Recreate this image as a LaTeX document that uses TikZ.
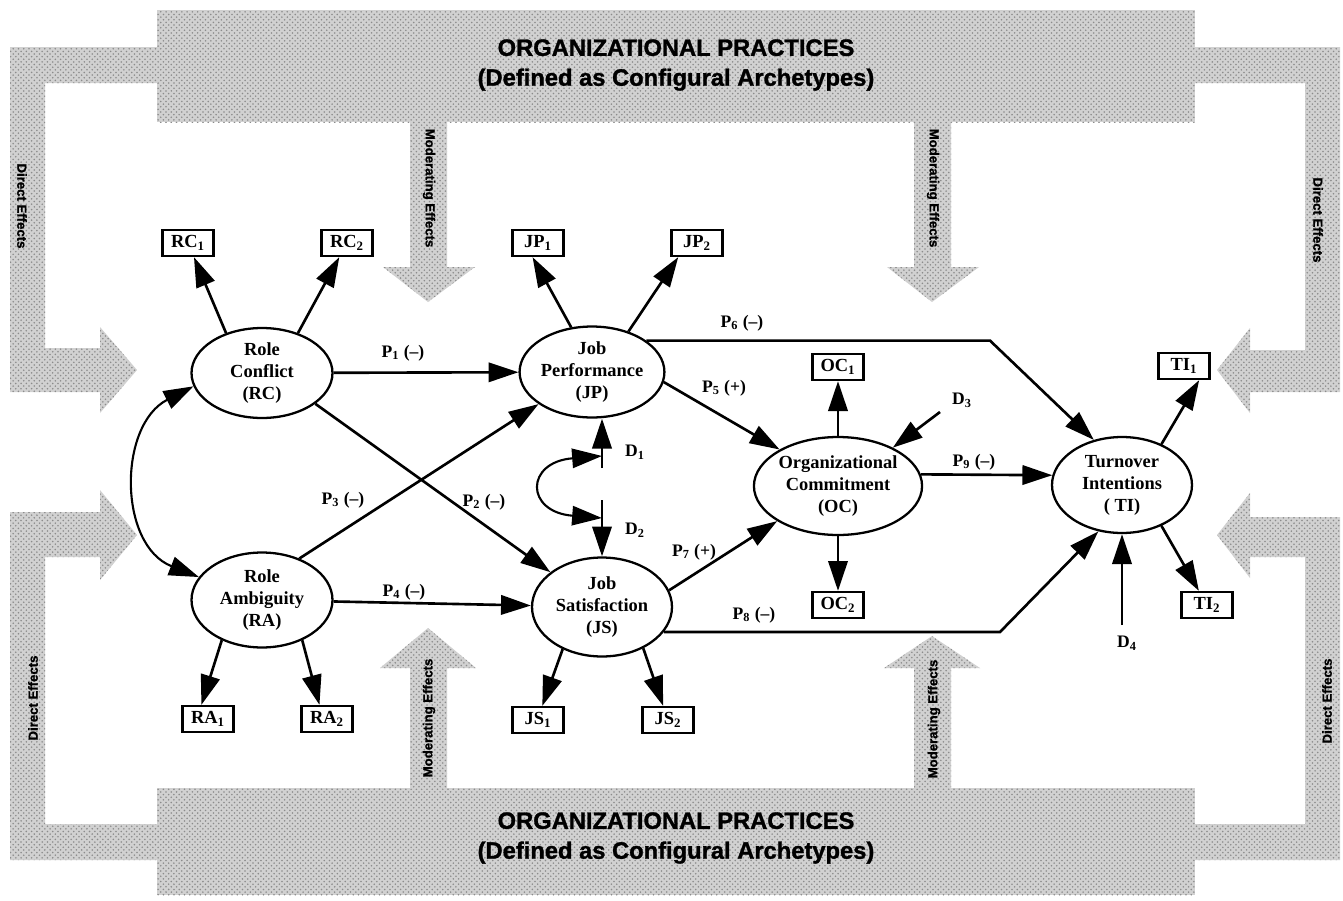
\documentclass[tikz,border=0pt]{standalone}
\usepackage{fontspec}
\setmainfont{Liberation Serif}
\setsansfont{Liberation Sans}[BoldFeatures={FakeBold=1.3}]
\usetikzlibrary{arrows.meta,shapes.geometric,patterns}

\tikzset{
  latent/.style={ellipse, draw, line width=1.3pt, inner sep=0pt, align=center,
    font=\bfseries\fontsize{10.5}{12.5}\selectfont},
  indic/.style={rectangle, draw, line width=1.3pt, minimum width=1.02cm,
    minimum height=0.52cm, inner sep=0pt, font=\bfseries\fontsize{10.5}{12}\selectfont},
  causal/.style={->, line width=1.5pt},
  plabel/.style={font=\bfseries\fontsize{10}{12}\selectfont},
  band/.style={fill=black!18, postaction={pattern=crosshatch dots, pattern color=black!45}},
  effect/.style={font=\sffamily\bfseries\fontsize{7.5}{9}\selectfont},
  practice/.style={align=center, font=\sffamily\bfseries\fontsize{13.5}{17}\selectfont}
}

\begin{document}
\begin{tikzpicture}[x=0.02cm, y=-0.02cm, >={Triangle[length=17pt,width=11pt]}]
    \useasboundingbox (0,0) rectangle (1343,900);

    % organizational practices
    \fill[band] (157,10) rectangle (1195,122);
    \fill[band] (157,788) rectangle (1195,895);
    \fill[band] (157,47) -- (10,47) -- (10,392) -- (100,392) -- (100,413) -- (137,370)
        -- (100,327) -- (100,348) -- (45,348) -- (45,83) -- (157,83) -- cycle;
    \fill[band] (157,860) -- (10,860) -- (10,512) -- (100,512) -- (100,490) -- (137,535)
        -- (100,580) -- (100,557) -- (45,557) -- (45,824) -- (157,824) -- cycle;
    \fill[band] (1195,47) -- (1340,47) -- (1340,392) -- (1250,392) -- (1250,413) -- (1217,370)
        -- (1250,328) -- (1250,350) -- (1305,350) -- (1305,83) -- (1195,83) -- cycle;
    \fill[band] (1195,860) -- (1340,860) -- (1340,517) -- (1250,517) -- (1250,493) -- (1217,535)
        -- (1250,578) -- (1250,557) -- (1305,557) -- (1305,824) -- (1195,824) -- cycle;
    \foreach \x/\t in {428/628,932/636}
    {
        \fill[band] (\x-18,122) -- (\x-18,267) -- (\x-45,267) -- (\x,302) -- (\x+47,267)
            -- (\x+19,267) -- (\x+19,122) -- cycle;
        \fill[band] (\x-18,788) -- (\x-18,668) -- (\x-48,668) -- (\x,\t) -- (\x+48,668)
            -- (\x+19,668) -- (\x+19,788) -- cycle;
    }

    \node[practice] (optop) at (676,65) {ORGANIZATIONAL PRACTICES\\(Defined as Configural Archetypes)};
    \node[practice] (opbot) at (676,838) {ORGANIZATIONAL PRACTICES\\(Defined as Configural Archetypes)};

    \node[effect, rotate=-90] (de1) at (22,206) {Direct Effects};
    \node[effect, rotate=-90] (me1) at (429,188) {Moderating Effects};
    \node[effect, rotate=-90] (me2) at (933,188) {Moderating Effects};
    \node[effect, rotate=-90] (de2) at (1318,220) {Direct Effects};
    \node[effect, rotate=90] (de3) at (33,698) {Direct Effects};
    \node[effect, rotate=90] (me3) at (429,718) {Moderating Effects};
    \node[effect, rotate=90] (me4) at (934,719) {Moderating Effects};
    \node[effect, rotate=90] (de4) at (1327,701) {Direct Effects};

    % constructs
    \node[latent, minimum width=2.82cm, minimum height=1.8cm] (RC) at (262,373) {Role\\Conflict\\(RC)};
    \node[latent, minimum width=2.82cm, minimum height=1.9cm] (RA) at (262,600) {Role\\Ambiguity\\(RA)};
    \node[latent, minimum width=2.8cm, minimum height=1.82cm] (JP) at (592,372) {Job\\Performance\\(JP)};
    \node[latent, minimum width=2.8cm, minimum height=1.98cm] (JS) at (602,607) {Job\\Satisfaction\\(JS)};
    \node[latent, minimum width=3.0cm, minimum height=1.96cm] (OC) at (838,486) {Organizational\\Commitment\\(OC)};
    \node[latent, minimum width=2.8cm, minimum height=1.92cm] (TI) at (1122,485) {Turnover\\Intentions\\( TI)};

    % indicators
    \node[indic] (RC1) at (188,243) {RC\textsubscript{1}};
    \node[indic] (RC2) at (347,243) {RC\textsubscript{2}};
    \node[indic] (JP1) at (538,243) {JP\textsubscript{1}};
    \node[indic] (JP2) at (697,243) {JP\textsubscript{2}};
    \node[indic] (OC1) at (838,367) {OC\textsubscript{1}};
    \node[indic] (OC2) at (838,605) {OC\textsubscript{2}};
    \node[indic] (TI1) at (1184,366) {TI\textsubscript{1}};
    \node[indic] (TI2) at (1207,605) {TI\textsubscript{2}};
    \node[indic] (RA1) at (208,719) {RA\textsubscript{1}};
    \node[indic] (RA2) at (327,719) {RA\textsubscript{2}};
    \node[indic] (JS1) at (538,720) {JS\textsubscript{1}};
    \node[indic] (JS2) at (668,720) {JS\textsubscript{2}};

    \draw[causal] (RC.132) -- (RC1);
    \draw[causal] (RC.48) -- (RC2);
    \draw[causal] (JP.115) -- (JP1.-111);
    \draw[causal] (JP.48) -- (JP2.-143);
    \draw[causal] (RA.225) -- (RA1.115);
    \draw[causal] (RA.-45) -- (RA2.118);
    \draw[causal] (JS.227) -- (JS1.73);
    \draw[causal] (JS.-45) -- (JS2);
    \draw[causal] (OC) -- (OC1);
    \draw[causal] (OC) -- (OC2);
    \draw[causal] (TI.46) -- (TI1.-43);
    \draw[causal] (TI.-46) -- (TI2);

    % structural paths
    \coordinate (p6bend) at (990,336);
    \coordinate (p8bend) at (1000,632);
    \draw[causal] (RC) -- (JP);
    \draw[causal] (RC.-30) -- (JS.146);
    \draw[causal] (RA.48) -- (JP.-149);
    \draw[causal] (RA) -- (JS);
    \draw[causal] (JP.-8) -- (OC.148);
    \draw[causal] (JP.30) -- (JP.30 -| p6bend) -- (TI.122);
    \draw[causal] (JS.14) -- (OC.-150);
    \draw[causal] (JS.-22) -- (JS.-22 -| p8bend) -- (TI.-117);
    \draw[causal] (OC.8) -- (TI.172);

    \node[plabel] (p1) at (403,353) {P\textsubscript{1} (–)};
    \node[plabel] (p2) at (484,502) {P\textsubscript{2} (–)};
    \node[plabel] (p3) at (343,500) {P\textsubscript{3} (–)};
    \node[plabel] (p4) at (404,592) {P\textsubscript{4} (–)};
    \node[plabel] (p5) at (724,388) {P\textsubscript{5} (+)};
    \node[plabel] (p6) at (742,323) {P\textsubscript{6} (–)};
    \node[plabel] (p7) at (694,552) {P\textsubscript{7} (+)};
    \node[plabel] (p8) at (754,615) {P\textsubscript{8} (–)};
    \node[plabel] (p9) at (974,462) {P\textsubscript{9} (–)};

    % disturbances
    \coordinate (d1) at (602,468);
    \coordinate (d2) at (602,500);
    \coordinate (d3) at (940,412);
    \coordinate (d4) at (1122,625);
    \coordinate (d1c) at (602,456);
    \coordinate (d2c) at (602,518);
    \draw[causal] (d1) -- (d1 |- JP.south);
    \draw[causal] (d2) -- (JS);
    \draw[causal] (d3) -- (OC.35);
    \draw[causal] (d4) -- (TI);
    \draw[<->, line width=1.2pt] (d1c) .. controls (525,462) and (525,512) .. (d2c);
    \draw[<->, line width=1.2pt] (RC.191) .. controls (118,425) and (118,545) .. (RA.160);

    \node[plabel] (D1) at (635,452) {D\textsubscript{1}};
    \node[plabel] (D2) at (635,530) {D\textsubscript{2}};
    \node[plabel] (D3) at (962,400) {D\textsubscript{3}};
    \node[plabel] (D4) at (1127,643) {D\textsubscript{4}};

\end{tikzpicture}
\end{document}
